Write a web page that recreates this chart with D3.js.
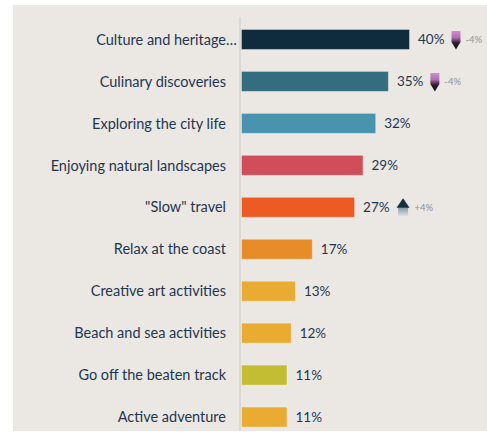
<!DOCTYPE html>
<html>
<head>
<meta charset="utf-8">
<script src="https://cdn.jsdelivr.net/npm/d3@7"></script>
<style>
  html, body { margin: 0; padding: 0; background: #ffffff; }
  svg { display: block; }
</style>
</head>
<body>
<svg id="chart" width="487" height="433"></svg>
<script>
// Travel interests: share of respondents, with change vs. previous survey
const categories = [
  "Culture and heritage",
  "Culinary discoveries",
  "Exploring the city life",
  "Enjoying natural landscapes",
  "\"Slow\" travel",
  "Relax at the coast",
  "Creative art activities",
  "Beach and sea activities",
  "Go off the beaten track",
  "Active adventure"
];
const truncated = [true, false, false, false, false, false, false, false, false, false];
const values = [40, 35, 32, 29, 27, 17, 13, 12, 11, 11];
const changes = [-4, -4, null, null, 4, null, null, null, null, null];
const barColors = [
  "#0f2c3e", "#346c80", "#4893ae", "#cf4e59", "#ee5a24",
  "#e88c2a", "#eaab32", "#eaab32", "#c3bd33", "#eaab32"
];

const W = 487, H = 433;
const svg = d3.select("#chart");

const defs = svg.append("defs");
const gDown = defs.append("linearGradient").attr("id", "gradDown")
  .attr("x1", 0).attr("y1", 0).attr("x2", 0).attr("y2", 1);
gDown.append("stop").attr("offset", "0%").attr("stop-color", "#cf8fd0");
gDown.append("stop").attr("offset", "35%").attr("stop-color", "#b46fb6");
gDown.append("stop").attr("offset", "65%").attr("stop-color", "#2a1d2c");
gDown.append("stop").attr("offset", "100%").attr("stop-color", "#141016");
const gUp = defs.append("linearGradient").attr("id", "gradUp")
  .attr("x1", 0).attr("y1", 0).attr("x2", 0).attr("y2", 1);
gUp.append("stop").attr("offset", "0%").attr("stop-color", "#7f98a6");
gUp.append("stop").attr("offset", "100%").attr("stop-color", "#dfe5e7");

// panel background
svg.append("rect")
  .attr("x", 13).attr("y", 5).attr("width", W - 13).attr("height", 426)
  .attr("fill", "#ebe8e3");

const y = d3.scaleBand()
  .domain(categories)
  .range([18.5, 438])
  .paddingInner(0.5)
  .paddingOuter(0.25);

const x = d3.scaleLinear().domain([0, 40]).range([241, 410]);

// baseline rule
svg.append("line")
  .attr("x1", 240).attr("x2", 240)
  .attr("y1", 17).attr("y2", 431)
  .attr("stroke", "#dcd9d4").attr("stroke-width", 2);

const rows = svg.append("g").selectAll("g")
  .data(categories.map((c, i) => ({
    name: c, value: values[i], change: changes[i],
    color: barColors[i], cut: truncated[i]
  })))
  .join("g")
  .attr("transform", d => `translate(0,${y(d.name)})`);

rows.append("rect")
  .attr("x", x(0) + 0.5)
  .attr("y", 0.5)
  .attr("width", d => x(d.value) - x(0) - 1)
  .attr("height", y.bandwidth() - 1)
  .attr("fill", d => d.color)
  .attr("stroke", "rgba(255,255,255,0.35)")
  .attr("stroke-width", 1);

const labelFont = "Lato, 'Noto Sans', sans-serif";

rows.append("text")
  .attr("x", 226)
  .attr("y", y.bandwidth() / 2)
  .attr("dy", "0.36em")
  .attr("text-anchor", "end")
  .attr("font-family", labelFont)
  .attr("font-size", 14.5)
  .attr("fill", "#1f3550")
  .text(d => d.name);

rows.filter(d => d.cut).append("text")
  .attr("x", 226)
  .attr("y", y.bandwidth() / 2)
  .attr("dy", "0.36em")
  .attr("font-family", labelFont)
  .attr("font-size", 14.5)
  .attr("fill", "#1f3550")
  .text("\u2026");

rows.append("text")
  .attr("class", "val")
  .attr("x", d => x(d.value) + 8)
  .attr("y", y.bandwidth() / 2)
  .attr("dy", "0.36em")
  .attr("font-family", labelFont)
  .attr("font-size", 13.5)
  .attr("fill", "#1f3550")
  .text(d => d.value + "%");

// change indicators
rows.filter(d => d.change !== null).each(function(d) {
  const g = d3.select(this);
  const tw = g.select("text.val").node().getComputedTextLength();
  const x0 = x(d.value) + 8 + tw + 7;
  const cy = y.bandwidth() / 2;
  const ic = g.append("g").attr("transform", `translate(${x0},${cy})`);
  let iw;
  if (d.change < 0) {
    iw = 9;
    ic.append("path")
      .attr("d", "M0,-8.5 L9,-8.5 L9,2.5 L4.5,10 L0,2.5 Z")
      .attr("fill", "url(#gradDown)");
  } else {
    iw = 13;
    ic.append("path")
      .attr("d", "M1.5,0 L11.5,0 L11.5,9 L1.5,9 Z")
      .attr("fill", "url(#gradUp)");
    ic.append("path")
      .attr("d", "M6.5,-9 L13,0.5 L0,0.5 Z")
      .attr("fill", "#13303f");
  }
  g.append("text")
    .attr("x", x0 + iw + 5)
    .attr("y", cy)
    .attr("dy", "0.36em")
    .attr("font-family", labelFont)
    .attr("font-size", 9.5)
    .attr("fill", "#8b9098")
    .text((d.change > 0 ? "+" : "-") + Math.abs(d.change) + "%");
});
</script>
</body>
</html>
